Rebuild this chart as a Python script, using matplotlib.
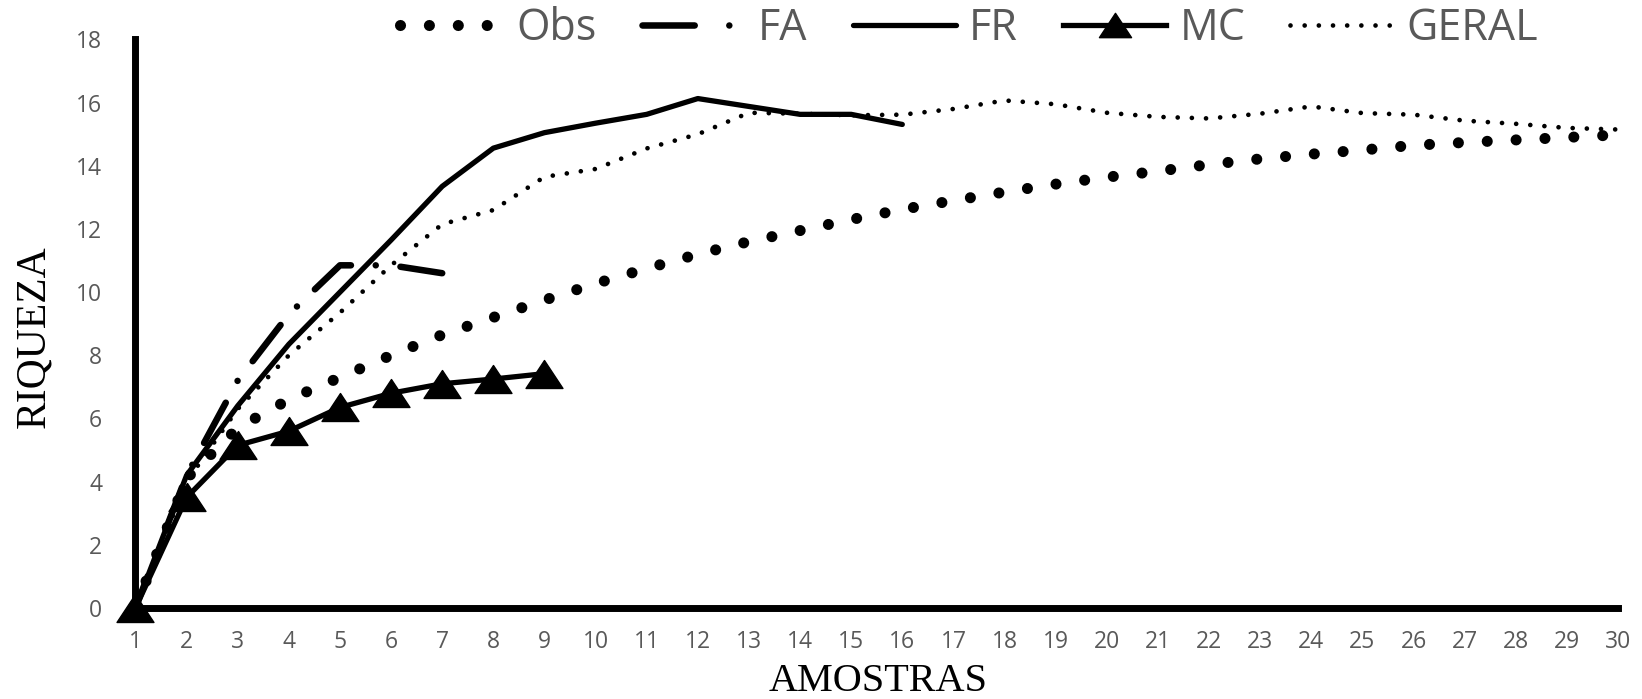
import matplotlib
matplotlib.use("Agg")
import matplotlib.pyplot as plt
from matplotlib.lines import Line2D
from matplotlib.path import Path

# Species accumulation data
amostras = list(range(1, 31))
obs = [0, 4.1, 5.7, 6.6, 7.3, 8.0, 8.65, 9.2, 9.75, 10.27, 10.75, 11.2, 11.6, 11.95,
       12.3, 12.62, 12.9, 13.17, 13.42, 13.64, 13.83, 14.04, 14.22, 14.37, 14.5,
       14.65, 14.74, 14.82, 14.9, 14.98]
fa = [0, 4.2, 7.2, 9.3, 10.85, 10.85, 10.6]
fr = [0, 4.2, 6.4, 8.35, 10.0, 11.65, 13.35, 14.56, 15.05, 15.35, 15.63, 16.13,
      15.88, 15.63, 15.63, 15.31]
mc = [0, 3.5, 5.15, 5.6, 6.35, 6.8, 7.1, 7.25, 7.42]
geral = [0, 4.0, 6.3, 8.0, 9.35, 10.85, 12.15, 12.6, 13.65, 13.9, 14.55, 15.0,
         15.68, 15.65, 15.6, 15.62, 15.8, 16.07, 15.95, 15.68, 15.55, 15.5, 15.65,
         15.88, 15.67, 15.62, 15.43, 15.33, 15.2, 15.15]

y_ticks = list(range(0, 19, 2))

GRAY = "#595959"
SANS = "Open Sans"
SERIF = "Liberation Serif"

plt.rcParams.update({
    "font.family": SANS,
    "lines.solid_joinstyle": "round",
})

# wide triangle marker like Excel's
tri = Path([(0, 0.757), (-1, -0.757), (1, -0.757), (0, 0.757)],
           [Path.MOVETO, Path.LINETO, Path.LINETO, Path.CLOSEPOLY])

fig = plt.figure(figsize=(16.42, 6.99), dpi=100)
ax = fig.add_axes([0.0825, 0.1302, 0.9854 - 0.0825, 0.9435 - 0.1302])

l_obs, = ax.plot(amostras[:len(obs)], obs, color="black", lw=8,
                 linestyle=(0, (0.001, 2.6)), dash_capstyle="round",
                 clip_on=False, zorder=3)
ax.plot(amostras[:len(fa)], fa, color="black", lw=4.7,
        linestyle=(1.78, (7, 3.8, 0.001, 3.8)), dash_capstyle="round",
        clip_on=False, zorder=4)
l_fr, = ax.plot(amostras[:len(fr)], fr, color="black", lw=3.8,
                solid_capstyle="round", clip_on=False, zorder=5)
l_mc, = ax.plot(amostras[:len(mc)], mc, color="black", lw=3.8, marker=tri,
                markersize=26.6, clip_on=False, zorder=6)
l_geral, = ax.plot(amostras[:len(geral)], geral, color="black", lw=3.4,
                   linestyle=(0, (0.001, 3.0)), dash_capstyle="round",
                   clip_on=False, zorder=7)

# legend sample for FA: one long dash then one dot
fa_key = Line2D([], [], color="black", lw=4.7, dash_capstyle="round",
                linestyle=(0, (8, 5.3, 0.001, 20)))

ax.set_xlim(1, 30)
ax.set_ylim(0, 18)
ax.set_xticks(amostras)
ax.set_yticks(y_ticks)
ax.tick_params(axis="both", length=0, colors=GRAY, labelsize=16.5)
ax.tick_params(axis="x", pad=16)
ax.tick_params(axis="y", pad=24)

for side in ["top", "right"]:
    ax.spines[side].set_visible(False)
for side in ["left", "bottom"]:
    ax.spines[side].set_linewidth(5)
    ax.spines[side].set_color("black")
    ax.spines[side].set_capstyle("projecting")
    ax.spines[side].set_zorder(2)

fig.text(34 / 1642, 1 - 337 / 699, "RIQUEZA", rotation=90, ha="center",
         va="center", family=SERIF, fontsize=30, color="black")
fig.text(878 / 1642, 1 - 691 / 699, "AMOSTRAS", ha="center", va="baseline",
         family=SERIF, fontsize=29, color="black")

fig.legend([l_obs, fa_key, l_fr, l_mc, l_geral],
           ["Obs", "FA", "FR", "MC", "GERAL"], loc="center left",
           bbox_to_anchor=(400 / 1642, 1 - 29 / 699), ncol=5, frameon=False,
           prop={"family": SANS, "size": 31}, labelcolor=GRAY,
           handlelength=2.4, handletextpad=0.3, columnspacing=1.05,
           borderpad=0, borderaxespad=0, markerscale=0.87)

fig.savefig("out.png", dpi=100)
